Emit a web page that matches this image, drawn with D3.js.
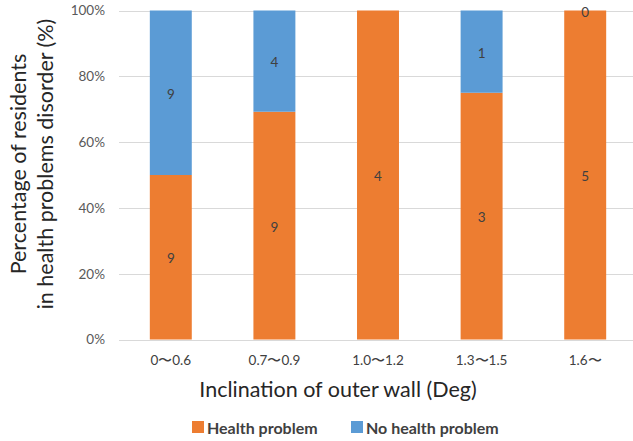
<!DOCTYPE html>
<html>
<head>
<meta charset="utf-8">
<script src="https://cdn.jsdelivr.net/npm/d3@7"></script>
<style>
  html, body { margin: 0; padding: 0; background: #fff; }
  svg { display: block; font-family: Lato, "Open Sans", "Liberation Sans", sans-serif; }
</style>
</head>
<body>
<svg id="chart" width="633" height="441"></svg>
<script>
// Inclination classes of the outer wall (degrees)
const categories = ["0〜0.6", "0.7〜0.9", "1.0〜1.2", "1.3〜1.5", "1.6〜"];
// Number of residents in each class
const healthProblem = [9, 9, 4, 3, 5];
const noHealthProblem = [9, 4, 0, 1, 0];
const yTicks = [0, 0.2, 0.4, 0.6, 0.8, 1.0];
const seriesNames = ["Health problem", "No health problem"];
const seriesColors = ["#ED7D31", "#5B9BD5"];

const svg = d3.select("#chart");
const plot = { left: 119, right: 637, top: 10.5, bottom: 339.5 };

const x = d3.scaleBand().domain(categories).range([plot.left, plot.right])
  .paddingInner(0.595).paddingOuter(0.2975);
const y = d3.scaleLinear().domain([0, 1]).range([plot.bottom, plot.top]);

// Gridlines
svg.append("g").selectAll("line").data(yTicks).join("line")
  .attr("x1", plot.left).attr("x2", plot.right)
  .attr("y1", d => Math.round(y(d)) + 0.5).attr("y2", d => Math.round(y(d)) + 0.5)
  .attr("stroke", "#d9d9d9").attr("stroke-width", 1);

// Y axis tick labels
const yAxis = d3.axisLeft(y).tickValues(yTicks).tickFormat(d3.format(".0%")).tickSize(0).tickPadding(0);
const gy = svg.append("g").attr("transform", `translate(105,0)`).call(yAxis);
gy.select(".domain").remove();
gy.selectAll("text").attr("fill", "#595959").style("font-size", "13.5px")
  .style("font-family", "Lato, 'Open Sans', sans-serif");

// Stacked shares
const rows = categories.map((c, i) => {
  const total = healthProblem[i] + noHealthProblem[i];
  return { cat: c, h: healthProblem[i], n: noHealthProblem[i], hs: healthProblem[i] / total, ns: noHealthProblem[i] / total, last: i === categories.length - 1 };
});

const bars = svg.append("g");
// Health problem segment (bottom)
bars.selectAll("rect.h").data(rows).join("rect").attr("class", "h")
  .attr("x", d => x(d.cat)).attr("width", x.bandwidth())
  .attr("y", d => y(d.hs)).attr("height", d => y(0) - y(d.hs))
  .attr("fill", seriesColors[0]);
// No health problem segment (top)
bars.selectAll("rect.n").data(rows).join("rect").attr("class", "n")
  .attr("x", d => x(d.cat)).attr("width", x.bandwidth())
  .attr("y", d => y(d.hs + d.ns)).attr("height", d => y(d.hs) - y(d.hs + d.ns))
  .attr("fill", seriesColors[1]);

// Value labels
const labels = svg.append("g").style("font-size", "13.5px").attr("fill", "#404040")
  .attr("text-anchor", "middle").attr("dominant-baseline", "central");
labels.selectAll("text.h").data(rows).join("text").attr("class", "h")
  .attr("x", d => x(d.cat) + x.bandwidth() / 2)
  .attr("y", d => (y(0) + y(d.hs)) / 2 + 1)
  .text(d => d.h);
labels.selectAll("text.n").data(rows.filter(d => d.n > 0 || d.last)).join("text").attr("class", "n")
  .attr("x", d => x(d.cat) + x.bandwidth() / 2)
  .attr("y", d => (y(d.hs) + y(d.hs + d.ns)) / 2 + 1)
  .text(d => d.n);

// X axis labels
const xAxis = d3.axisBottom(x).tickSize(0).tickPadding(0);
const gx = svg.append("g").attr("transform", `translate(0,355)`).call(xAxis);
gx.select(".domain").remove();
gx.selectAll("text").attr("fill", "#404040").style("font-size", "13.5px")
  .style("font-family", "Lato, 'Open Sans', sans-serif").attr("dy", "0.32em").attr("y", 6);

// Axis titles
svg.append("text").attr("x", 338).attr("y", 389).attr("text-anchor", "middle")
  .attr("dominant-baseline", "central").attr("fill", "#262626").style("font-size", "21.5px")
  .text("Inclination of outer wall (Deg)");

const yTitle = svg.append("text").attr("transform", "translate(0,164) rotate(-90)")
  .attr("text-anchor", "middle").attr("fill", "#262626").style("font-size", "21.5px");
yTitle.append("tspan").attr("x", 0).attr("y", 26).text("Percentage of residents");
yTitle.append("tspan").attr("x", 0).attr("y", 53).text("in health problems disorder (%)");

// Legend
const legendItems = [
  { name: seriesNames[0], color: seriesColors[0], x: 192 },
  { name: seriesNames[1], color: seriesColors[1], x: 351 }
];
const lg = svg.append("g").selectAll("g").data(legendItems).join("g")
  .attr("transform", d => `translate(${d.x},421)`);
lg.append("rect").attr("width", 12).attr("height", 12).attr("fill", d => d.color);
lg.append("text").attr("x", 15).attr("y", 6.5).attr("dominant-baseline", "central")
  .attr("fill", "#404040").style("font-size", "16px").style("font-weight", "bold")
  .text(d => d.name);
</script>
</body>
</html>
